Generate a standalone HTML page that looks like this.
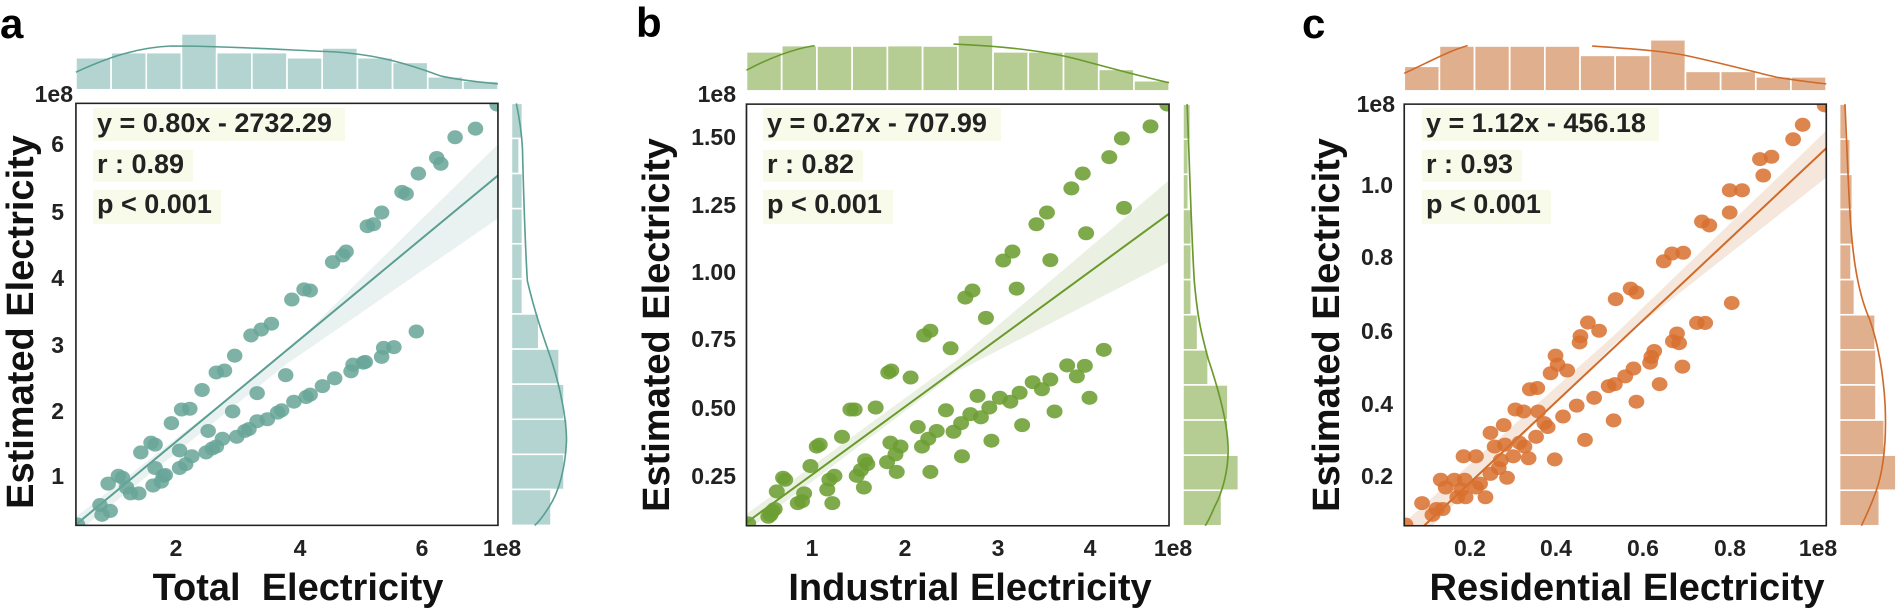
<!DOCTYPE html>
<html><head><meta charset="utf-8"><style>
html,body{margin:0;padding:0;background:#fff;}
svg{display:block;}
text{font-family:"Liberation Sans",Arial,sans-serif;font-weight:bold;fill:#222;}
.tk{font-size:23px;}
.lab{font-size:38px;fill:#111;}
.ann{font-size:27px;}
.pl{font-size:42px;fill:#000;}
</style></head><body>
<svg width="1900" height="612" viewBox="0 0 1900 612" xmlns="http://www.w3.org/2000/svg">
<defs>
<clipPath id="ca"><rect x="186" y="265" width="1034" height="1082"/></clipPath>
<clipPath id="cb"><rect x="348" y="267" width="1004" height="1081"/></clipPath>
<clipPath id="cc"><rect x="372" y="267" width="1018" height="1081"/></clipPath>
</defs>

<!-- ============ PANEL A ============ -->
<g transform="scale(0.40816,0.39002)">
 <g fill="#b3d4d0" stroke="#fff" stroke-width="4">
  <rect x="186" y="148" width="86.2" height="82"/><rect x="272.2" y="135" width="86.2" height="95"/><rect x="358.4" y="135" width="86.2" height="95"/><rect x="444.6" y="87" width="86.2" height="143"/><rect x="530.8" y="135" width="86.2" height="95"/><rect x="617" y="135" width="86.2" height="95"/><rect x="703.2" y="148" width="86.2" height="82"/><rect x="789.4" y="123" width="86.2" height="107"/><rect x="875.6" y="148" width="86.2" height="82"/><rect x="961.8" y="160" width="86.2" height="70"/><rect x="1048" y="197" width="86.2" height="33"/><rect x="1134.2" y="208" width="86.2" height="22"/>
 </g>
 <path d="M186,185 C260,150 330,122 420,118 C560,118 700,128 820,133 C920,140 990,160 1080,195 C1140,208 1190,212 1220,215" fill="none" stroke="#5a9e92" stroke-width="4"/>
 <g fill="#b3d4d0" stroke="#fff" stroke-width="4">
  <rect x="1253" y="265" width="27" height="90"/><rect x="1253" y="355" width="19" height="90"/><rect x="1253" y="445" width="27" height="90"/><rect x="1253" y="535" width="27" height="90"/><rect x="1253" y="625" width="27" height="90"/><rect x="1253" y="715" width="27" height="90"/><rect x="1253" y="805" width="67" height="90"/><rect x="1253" y="895" width="117" height="90"/><rect x="1253" y="985" width="129" height="90"/><rect x="1253" y="1075" width="137" height="90"/><rect x="1253" y="1165" width="129" height="90"/><rect x="1253" y="1255" width="97" height="92"/>
 </g>
 <path d="M1265,265 C1272,300 1278,340 1280,380 C1284,550 1288,650 1292,720 C1310,800 1330,860 1350,920 C1375,1000 1388,1080 1388,1130 C1385,1200 1370,1260 1345,1300 C1330,1325 1318,1340 1310,1347" fill="none" stroke="#5a9e92" stroke-width="4"/>
 <g clip-path="url(#ca)">
  <polygon points="186,1325 700,905 1220,370 1220,560 700,935 186,1368" fill="#6aa89c" fill-opacity="0.15"/>
  <line x1="186" y1="1345" x2="1220" y2="450" stroke="#5a9e92" stroke-width="5"/>
  <g fill="#67a598" fill-opacity="0.85">
   <ellipse cx="190" cy="1345" rx="19" ry="18"/>
   <ellipse cx="245" cy="1295" rx="19" ry="18"/><ellipse cx="265" cy="1240" rx="19" ry="18"/><ellipse cx="290" cy="1220" rx="19" ry="18"/><ellipse cx="300" cy="1225" rx="19" ry="18"/><ellipse cx="345" cy="1160" rx="19" ry="18"/><ellipse cx="370" cy="1135" rx="19" ry="18"/><ellipse cx="380" cy="1140" rx="19" ry="18"/><ellipse cx="420" cy="1085" rx="19" ry="18"/><ellipse cx="445" cy="1050" rx="19" ry="18"/><ellipse cx="465" cy="1048" rx="19" ry="18"/><ellipse cx="495" cy="1000" rx="19" ry="18"/><ellipse cx="530" cy="955" rx="19" ry="18"/><ellipse cx="550" cy="950" rx="19" ry="18"/><ellipse cx="575" cy="912" rx="19" ry="18"/><ellipse cx="615" cy="860" rx="19" ry="18"/><ellipse cx="640" cy="845" rx="19" ry="18"/><ellipse cx="665" cy="830" rx="19" ry="18"/><ellipse cx="715" cy="768" rx="19" ry="18"/><ellipse cx="745" cy="742" rx="19" ry="18"/><ellipse cx="760" cy="745" rx="19" ry="18"/><ellipse cx="815" cy="672" rx="19" ry="18"/><ellipse cx="840" cy="655" rx="19" ry="18"/><ellipse cx="848" cy="645" rx="19" ry="18"/><ellipse cx="900" cy="580" rx="19" ry="18"/><ellipse cx="915" cy="575" rx="19" ry="18"/><ellipse cx="935" cy="545" rx="19" ry="18"/><ellipse cx="985" cy="492" rx="19" ry="18"/><ellipse cx="995" cy="497" rx="19" ry="18"/><ellipse cx="1025" cy="445" rx="19" ry="18"/><ellipse cx="1070" cy="405" rx="19" ry="18"/><ellipse cx="1080" cy="420" rx="19" ry="18"/><ellipse cx="1115" cy="352" rx="19" ry="18"/><ellipse cx="1165" cy="330" rx="19" ry="18"/><ellipse cx="1218" cy="268" rx="19" ry="18"/>
   <ellipse cx="250" cy="1320" rx="19" ry="18"/><ellipse cx="270" cy="1310" rx="19" ry="18"/><ellipse cx="310" cy="1250" rx="19" ry="18"/><ellipse cx="320" cy="1265" rx="19" ry="18"/><ellipse cx="340" cy="1265" rx="19" ry="18"/><ellipse cx="375" cy="1245" rx="19" ry="18"/><ellipse cx="380" cy="1200" rx="19" ry="18"/><ellipse cx="395" cy="1235" rx="19" ry="18"/><ellipse cx="405" cy="1218" rx="19" ry="18"/><ellipse cx="440" cy="1200" rx="19" ry="18"/><ellipse cx="455" cy="1190" rx="19" ry="18"/><ellipse cx="470" cy="1170" rx="19" ry="18"/><ellipse cx="505" cy="1160" rx="19" ry="18"/><ellipse cx="520" cy="1150" rx="19" ry="18"/><ellipse cx="530" cy="1145" rx="19" ry="18"/><ellipse cx="545" cy="1125" rx="19" ry="18"/><ellipse cx="580" cy="1120" rx="19" ry="18"/><ellipse cx="600" cy="1105" rx="19" ry="18"/><ellipse cx="610" cy="1100" rx="19" ry="18"/><ellipse cx="630" cy="1080" rx="19" ry="18"/><ellipse cx="655" cy="1075" rx="19" ry="18"/><ellipse cx="680" cy="1058" rx="19" ry="18"/><ellipse cx="690" cy="1052" rx="19" ry="18"/><ellipse cx="720" cy="1030" rx="19" ry="18"/><ellipse cx="750" cy="1018" rx="19" ry="18"/><ellipse cx="760" cy="1012" rx="19" ry="18"/><ellipse cx="790" cy="990" rx="19" ry="18"/><ellipse cx="820" cy="970" rx="19" ry="18"/><ellipse cx="860" cy="952" rx="19" ry="18"/><ellipse cx="865" cy="935" rx="19" ry="18"/><ellipse cx="890" cy="930" rx="19" ry="18"/><ellipse cx="895" cy="928" rx="19" ry="18"/><ellipse cx="935" cy="915" rx="19" ry="18"/><ellipse cx="940" cy="892" rx="19" ry="18"/><ellipse cx="965" cy="890" rx="19" ry="18"/><ellipse cx="1020" cy="850" rx="19" ry="18"/>
   <ellipse cx="440" cy="1155" rx="19" ry="18"/><ellipse cx="510" cy="1105" rx="19" ry="18"/><ellipse cx="570" cy="1055" rx="19" ry="18"/><ellipse cx="630" cy="1008" rx="19" ry="18"/><ellipse cx="700" cy="962" rx="19" ry="18"/><ellipse cx="400" cy="1220" rx="19" ry="18"/>
  </g>
 </g>
 <rect x="186" y="265" width="1034" height="1082" fill="none" stroke="#222" stroke-width="4"/>
</g>
<text class="pl" x="0" y="38">a</text>
<text class="tk" x="73" y="102" text-anchor="end">1e8</text>
<text class="tk" x="64" y="152" text-anchor="end">6</text><text class="tk" x="64" y="220" text-anchor="end">5</text><text class="tk" x="64" y="286" text-anchor="end">4</text><text class="tk" x="64" y="353" text-anchor="end">3</text><text class="tk" x="64" y="419" text-anchor="end">2</text><text class="tk" x="64" y="484" text-anchor="end">1</text>
<g text-anchor="middle">
<text class="tk" x="176" y="556">2</text><text class="tk" x="300" y="556">4</text><text class="tk" x="422" y="556">6</text><text class="tk" x="502" y="556">1e8</text>
<text class="lab" x="298" y="600" xml:space="preserve">Total  Electricity</text>
</g>
<text class="lab" text-anchor="middle" transform="translate(33,322) rotate(-90)">Estimated Electricity</text>
<rect x="93" y="108" width="252" height="33" fill="#f8fbea"/>
<rect x="93" y="150" width="100" height="32" fill="#f8fbea"/>
<rect x="93" y="190" width="128" height="34" fill="#f8fbea"/>
<text class="ann" x="97" y="132">y = 0.80x - 2732.29</text>
<text class="ann" x="97" y="173">r : 0.89</text>
<text class="ann" x="97" y="213">p &lt; 0.001</text>

<!-- ============ PANEL B ============ -->
<g transform="translate(600,0) scale(0.42088,0.39002)">
 <g fill="#b5cc92" stroke="#fff" stroke-width="4">
  <rect x="348" y="133" width="83.7" height="100"/><rect x="431.7" y="117" width="83.7" height="116"/><rect x="515.4" y="118" width="83.7" height="115"/><rect x="599.1" y="118" width="83.7" height="115"/><rect x="682.8" y="117" width="83.7" height="116"/><rect x="766.5" y="118" width="83.7" height="115"/><rect x="850.2" y="90" width="83.7" height="143"/><rect x="933.9" y="133" width="83.7" height="100"/><rect x="1017.6" y="133" width="83.7" height="100"/><rect x="1101.3" y="133" width="83.7" height="100"/><rect x="1185" y="178" width="83.7" height="55"/><rect x="1268.7" y="207" width="83.7" height="26"/>
 </g>
 <path d="M348,180 C400,150 460,125 510,117 M840,113 C950,118 1050,130 1120,148 C1200,170 1280,195 1352,212" fill="none" stroke="#6a9a2c" stroke-width="4"/>
 <g fill="#b5cc92" stroke="#fff" stroke-width="4">
  <rect x="1385" y="267" width="18" height="90"/><rect x="1385" y="357" width="13" height="90"/><rect x="1385" y="447" width="13" height="90"/><rect x="1385" y="537" width="20" height="90"/><rect x="1385" y="627" width="20" height="90"/><rect x="1385" y="717" width="20" height="90"/><rect x="1385" y="807" width="35" height="90"/><rect x="1385" y="897" width="60" height="90"/><rect x="1385" y="987" width="107" height="90"/><rect x="1385" y="1077" width="107" height="90"/><rect x="1385" y="1167" width="132" height="90"/><rect x="1385" y="1257" width="92" height="91"/>
 </g>
 <path d="M1395,267 C1400,400 1405,600 1412,720 C1420,820 1430,860 1445,920 C1470,1000 1490,1080 1492,1140 C1495,1200 1480,1260 1460,1300 C1450,1325 1443,1340 1438,1348" fill="none" stroke="#6a9a2c" stroke-width="4"/>
 <g clip-path="url(#cb)">
  <polygon points="348,1318 850,922 1352,462 1352,672 850,952 348,1362" fill="#74a23f" fill-opacity="0.15"/>
  <line x1="348" y1="1340" x2="1352" y2="548" stroke="#6a9a2c" stroke-width="5"/>
  <g fill="#6c9e33" fill-opacity="0.88">
   <ellipse cx="352" cy="1342" rx="19" ry="18"/><ellipse cx="405" cy="1320" rx="19" ry="18"/><ellipse cx="415" cy="1305" rx="19" ry="18"/><ellipse cx="420" cy="1260" rx="19" ry="18"/><ellipse cx="435" cy="1225" rx="19" ry="18"/><ellipse cx="440" cy="1230" rx="19" ry="18"/><ellipse cx="500" cy="1195" rx="19" ry="18"/><ellipse cx="515" cy="1145" rx="19" ry="18"/><ellipse cx="522" cy="1140" rx="19" ry="18"/><ellipse cx="575" cy="1120" rx="19" ry="18"/><ellipse cx="595" cy="1050" rx="19" ry="18"/><ellipse cx="605" cy="1050" rx="19" ry="18"/><ellipse cx="655" cy="1045" rx="19" ry="18"/><ellipse cx="685" cy="955" rx="19" ry="18"/><ellipse cx="692" cy="950" rx="19" ry="18"/><ellipse cx="738" cy="968" rx="19" ry="18"/><ellipse cx="770" cy="860" rx="19" ry="18"/><ellipse cx="785" cy="848" rx="19" ry="18"/><ellipse cx="833" cy="893" rx="19" ry="18"/><ellipse cx="868" cy="763" rx="19" ry="18"/><ellipse cx="885" cy="745" rx="19" ry="18"/><ellipse cx="917" cy="815" rx="19" ry="18"/><ellipse cx="958" cy="668" rx="19" ry="18"/><ellipse cx="980" cy="645" rx="19" ry="18"/><ellipse cx="990" cy="740" rx="19" ry="18"/><ellipse cx="1037" cy="575" rx="19" ry="18"/><ellipse cx="1062" cy="545" rx="19" ry="18"/><ellipse cx="1070" cy="667" rx="19" ry="18"/><ellipse cx="1120" cy="483" rx="19" ry="18"/><ellipse cx="1147" cy="445" rx="19" ry="18"/><ellipse cx="1155" cy="598" rx="19" ry="18"/><ellipse cx="1210" cy="403" rx="19" ry="18"/><ellipse cx="1240" cy="355" rx="19" ry="18"/><ellipse cx="1245" cy="533" rx="19" ry="18"/><ellipse cx="1308" cy="324" rx="19" ry="18"/><ellipse cx="1348" cy="268" rx="19" ry="18"/>
   <ellipse cx="400" cy="1325" rx="19" ry="18"/><ellipse cx="410" cy="1310" rx="19" ry="18"/><ellipse cx="470" cy="1290" rx="19" ry="18"/><ellipse cx="480" cy="1285" rx="19" ry="18"/><ellipse cx="485" cy="1265" rx="19" ry="18"/><ellipse cx="540" cy="1255" rx="19" ry="18"/><ellipse cx="545" cy="1230" rx="19" ry="18"/><ellipse cx="552" cy="1290" rx="19" ry="18"/><ellipse cx="557" cy="1220" rx="19" ry="18"/><ellipse cx="610" cy="1220" rx="19" ry="18"/><ellipse cx="620" cy="1205" rx="19" ry="18"/><ellipse cx="627" cy="1250" rx="19" ry="18"/><ellipse cx="630" cy="1180" rx="19" ry="18"/><ellipse cx="635" cy="1190" rx="19" ry="18"/><ellipse cx="682" cy="1185" rx="19" ry="18"/><ellipse cx="690" cy="1135" rx="19" ry="18"/><ellipse cx="702" cy="1165" rx="19" ry="18"/><ellipse cx="705" cy="1210" rx="19" ry="18"/><ellipse cx="714" cy="1145" rx="19" ry="18"/><ellipse cx="755" cy="1095" rx="19" ry="18"/><ellipse cx="765" cy="1145" rx="19" ry="18"/><ellipse cx="780" cy="1125" rx="19" ry="18"/><ellipse cx="785" cy="1210" rx="19" ry="18"/><ellipse cx="800" cy="1105" rx="19" ry="18"/><ellipse cx="822" cy="1052" rx="19" ry="18"/><ellipse cx="840" cy="1107" rx="19" ry="18"/><ellipse cx="858" cy="1085" rx="19" ry="18"/><ellipse cx="860" cy="1170" rx="19" ry="18"/><ellipse cx="880" cy="1062" rx="19" ry="18"/><ellipse cx="897" cy="1015" rx="19" ry="18"/><ellipse cx="905" cy="1070" rx="19" ry="18"/><ellipse cx="925" cy="1045" rx="19" ry="18"/><ellipse cx="930" cy="1130" rx="19" ry="18"/><ellipse cx="950" cy="1020" rx="19" ry="18"/><ellipse cx="975" cy="1030" rx="19" ry="18"/><ellipse cx="997" cy="1007" rx="19" ry="18"/><ellipse cx="1003" cy="1090" rx="19" ry="18"/><ellipse cx="1028" cy="980" rx="19" ry="18"/><ellipse cx="1050" cy="998" rx="19" ry="18"/><ellipse cx="1070" cy="973" rx="19" ry="18"/><ellipse cx="1080" cy="1055" rx="19" ry="18"/><ellipse cx="1110" cy="937" rx="19" ry="18"/><ellipse cx="1133" cy="965" rx="19" ry="18"/><ellipse cx="1152" cy="938" rx="19" ry="18"/><ellipse cx="1163" cy="1020" rx="19" ry="18"/><ellipse cx="1197" cy="897" rx="19" ry="18"/>
  </g>
 </g>
 <rect x="348" y="267" width="1004" height="1081" fill="none" stroke="#222" stroke-width="4"/>
</g>
<text class="pl" x="636" y="37">b</text>
<text class="tk" x="736" y="102" text-anchor="end">1e8</text>
<text class="tk" x="736" y="145" text-anchor="end">1.50</text>
<text class="tk" x="736" y="213" text-anchor="end">1.25</text>
<text class="tk" x="736" y="280" text-anchor="end">1.00</text>
<text class="tk" x="736" y="347" text-anchor="end">0.75</text>
<text class="tk" x="736" y="416" text-anchor="end">0.50</text>
<text class="tk" x="736" y="484" text-anchor="end">0.25</text>
<g text-anchor="middle">
<text class="tk" x="812" y="556">1</text><text class="tk" x="905" y="556">2</text><text class="tk" x="998" y="556">3</text><text class="tk" x="1090" y="556">4</text><text class="tk" x="1173" y="556">1e8</text>
<text class="lab" x="970" y="600">Industrial Electricity</text>
</g>
<text class="lab" text-anchor="middle" transform="translate(669,325) rotate(-90)">Estimated Electricity</text>
<rect x="763" y="108" width="238" height="33" fill="#f8fbea"/>
<rect x="763" y="150" width="100" height="32" fill="#f8fbea"/>
<rect x="763" y="190" width="130" height="34" fill="#f8fbea"/>
<text class="ann" x="767" y="132">y = 0.27x - 707.99</text>
<text class="ann" x="767" y="173">r : 0.82</text>
<text class="ann" x="767" y="213">p &lt; 0.001</text>

<!-- ============ PANEL C ============ -->
<g transform="translate(1250,0) scale(0.41459,0.39002)">
 <g fill="#e0b08e" stroke="#fff" stroke-width="4">
  <rect x="372" y="170" width="84.8" height="63"/><rect x="456.8" y="118" width="84.8" height="115"/><rect x="541.6" y="118" width="84.8" height="115"/><rect x="626.4" y="118" width="84.8" height="115"/><rect x="711.2" y="118" width="84.8" height="115"/><rect x="796" y="142" width="84.8" height="91"/><rect x="880.8" y="142" width="84.8" height="91"/><rect x="965.6" y="102" width="84.8" height="131"/><rect x="1050.4" y="183" width="84.8" height="50"/><rect x="1135.2" y="183" width="84.8" height="50"/><rect x="1220" y="197" width="84.8" height="36"/><rect x="1304.8" y="197" width="84.8" height="36"/>
 </g>
 <path d="M372,188 C430,160 480,130 525,117 M825,118 C920,125 990,130 1050,142 C1130,160 1200,180 1270,198 C1330,208 1370,213 1390,215" fill="none" stroke="#d06a2a" stroke-width="4"/>
 <g fill="#e0b08e" stroke="#fff" stroke-width="4">
  <rect x="1422" y="267" width="16" height="90"/><rect x="1422" y="357" width="26" height="90"/><rect x="1422" y="447" width="31" height="90"/><rect x="1422" y="537" width="31" height="90"/><rect x="1422" y="627" width="28" height="90"/><rect x="1422" y="717" width="36" height="90"/><rect x="1422" y="807" width="86" height="90"/><rect x="1422" y="897" width="88" height="90"/><rect x="1422" y="987" width="88" height="90"/><rect x="1422" y="1077" width="108" height="90"/><rect x="1422" y="1167" width="136" height="90"/><rect x="1422" y="1257" width="96" height="91"/>
 </g>
 <path d="M1435,267 C1440,380 1443,480 1448,560 C1455,680 1470,760 1495,820 C1515,880 1528,960 1532,1040 C1535,1120 1530,1200 1510,1260 C1495,1305 1482,1330 1475,1348" fill="none" stroke="#d06a2a" stroke-width="4"/>
 <g clip-path="url(#cc)">
  <polygon points="372,1340 880,858 1390,335 1390,455 880,882 372,1420" fill="#e8c9b0" fill-opacity="0.45"/>
  <line x1="420" y1="1348" x2="1390" y2="380" stroke="#d06a2a" stroke-width="5"/>
  <g fill="#d8702f" fill-opacity="0.85">
   <ellipse cx="375" cy="1345" rx="19" ry="18"/><ellipse cx="415" cy="1290" rx="19" ry="18"/><ellipse cx="440" cy="1320" rx="19" ry="18"/><ellipse cx="450" cy="1305" rx="19" ry="18"/><ellipse cx="465" cy="1305" rx="19" ry="18"/><ellipse cx="460" cy="1230" rx="19" ry="18"/><ellipse cx="472" cy="1250" rx="19" ry="18"/><ellipse cx="493" cy="1230" rx="19" ry="18"/><ellipse cx="500" cy="1275" rx="19" ry="18"/><ellipse cx="510" cy="1255" rx="19" ry="18"/><ellipse cx="515" cy="1170" rx="19" ry="18"/><ellipse cx="518" cy="1230" rx="19" ry="18"/><ellipse cx="520" cy="1275" rx="19" ry="18"/><ellipse cx="545" cy="1170" rx="19" ry="18"/><ellipse cx="545" cy="1250" rx="19" ry="18"/><ellipse cx="555" cy="1240" rx="19" ry="18"/><ellipse cx="568" cy="1275" rx="19" ry="18"/><ellipse cx="580" cy="1215" rx="19" ry="18"/><ellipse cx="580" cy="1110" rx="19" ry="18"/><ellipse cx="590" cy="1145" rx="19" ry="18"/><ellipse cx="600" cy="1200" rx="19" ry="18"/><ellipse cx="605" cy="1180" rx="19" ry="18"/><ellipse cx="612" cy="1090" rx="19" ry="18"/><ellipse cx="615" cy="1140" rx="19" ry="18"/><ellipse cx="620" cy="1225" rx="19" ry="18"/><ellipse cx="635" cy="1170" rx="19" ry="18"/><ellipse cx="640" cy="1050" rx="19" ry="18"/><ellipse cx="650" cy="1135" rx="19" ry="18"/><ellipse cx="660" cy="1055" rx="19" ry="18"/><ellipse cx="662" cy="1145" rx="19" ry="18"/><ellipse cx="672" cy="1175" rx="19" ry="18"/><ellipse cx="675" cy="998" rx="19" ry="18"/><ellipse cx="690" cy="1120" rx="19" ry="18"/><ellipse cx="693" cy="995" rx="19" ry="18"/><ellipse cx="695" cy="1055" rx="19" ry="18"/><ellipse cx="710" cy="1085" rx="19" ry="18"/><ellipse cx="718" cy="1095" rx="19" ry="18"/><ellipse cx="725" cy="957" rx="19" ry="18"/><ellipse cx="735" cy="1178" rx="19" ry="18"/><ellipse cx="737" cy="912" rx="19" ry="18"/><ellipse cx="742" cy="935" rx="19" ry="18"/><ellipse cx="755" cy="1068" rx="19" ry="18"/><ellipse cx="765" cy="950" rx="19" ry="18"/><ellipse cx="788" cy="1040" rx="19" ry="18"/><ellipse cx="795" cy="878" rx="19" ry="18"/><ellipse cx="797" cy="862" rx="19" ry="18"/><ellipse cx="808" cy="1128" rx="19" ry="18"/><ellipse cx="815" cy="827" rx="19" ry="18"/><ellipse cx="830" cy="1020" rx="19" ry="18"/><ellipse cx="842" cy="848" rx="19" ry="18"/><ellipse cx="865" cy="990" rx="19" ry="18"/><ellipse cx="877" cy="1078" rx="19" ry="18"/><ellipse cx="880" cy="985" rx="19" ry="18"/><ellipse cx="882" cy="767" rx="19" ry="18"/><ellipse cx="905" cy="965" rx="19" ry="18"/><ellipse cx="918" cy="740" rx="19" ry="18"/><ellipse cx="925" cy="945" rx="19" ry="18"/><ellipse cx="932" cy="1030" rx="19" ry="18"/><ellipse cx="932" cy="750" rx="19" ry="18"/><ellipse cx="965" cy="930" rx="19" ry="18"/><ellipse cx="968" cy="915" rx="19" ry="18"/><ellipse cx="975" cy="900" rx="19" ry="18"/><ellipse cx="988" cy="985" rx="19" ry="18"/><ellipse cx="998" cy="670" rx="19" ry="18"/><ellipse cx="1018" cy="650" rx="19" ry="18"/><ellipse cx="1020" cy="875" rx="19" ry="18"/><ellipse cx="1030" cy="855" rx="19" ry="18"/><ellipse cx="1035" cy="880" rx="19" ry="18"/><ellipse cx="1043" cy="940" rx="19" ry="18"/><ellipse cx="1045" cy="648" rx="19" ry="18"/><ellipse cx="1078" cy="828" rx="19" ry="18"/><ellipse cx="1090" cy="568" rx="19" ry="18"/><ellipse cx="1098" cy="828" rx="19" ry="18"/><ellipse cx="1108" cy="578" rx="19" ry="18"/><ellipse cx="1157" cy="545" rx="19" ry="18"/><ellipse cx="1157" cy="488" rx="19" ry="18"/><ellipse cx="1162" cy="777" rx="19" ry="18"/><ellipse cx="1187" cy="488" rx="19" ry="18"/><ellipse cx="1230" cy="408" rx="19" ry="18"/><ellipse cx="1238" cy="450" rx="19" ry="18"/><ellipse cx="1258" cy="402" rx="19" ry="18"/><ellipse cx="1310" cy="357" rx="19" ry="18"/><ellipse cx="1333" cy="320" rx="19" ry="18"/><ellipse cx="1386" cy="270" rx="19" ry="18"/>
  </g>
 </g>
 <rect x="372" y="267" width="1018" height="1081" fill="none" stroke="#222" stroke-width="4"/>
</g>
<text class="pl" x="1302" y="38">c</text>
<text class="tk" x="1395" y="112" text-anchor="end">1e8</text>
<text class="tk" x="1393" y="193" text-anchor="end">1.0</text>
<text class="tk" x="1393" y="265" text-anchor="end">0.8</text>
<text class="tk" x="1393" y="339" text-anchor="end">0.6</text>
<text class="tk" x="1393" y="412" text-anchor="end">0.4</text>
<text class="tk" x="1393" y="484" text-anchor="end">0.2</text>
<g text-anchor="middle">
<text class="tk" x="1470" y="556">0.2</text><text class="tk" x="1556" y="556">0.4</text><text class="tk" x="1643" y="556">0.6</text><text class="tk" x="1730" y="556">0.8</text><text class="tk" x="1818" y="556">1e8</text>
<text class="lab" x="1627" y="600">Residential Electricity</text>
</g>
<text class="lab" text-anchor="middle" transform="translate(1339,325) rotate(-90)">Estimated Electricity</text>
<rect x="1422" y="108" width="237" height="33" fill="#f8fbea"/>
<rect x="1422" y="150" width="100" height="32" fill="#f8fbea"/>
<rect x="1422" y="190" width="129" height="34" fill="#f8fbea"/>
<text class="ann" x="1426" y="132">y = 1.12x - 456.18</text>
<text class="ann" x="1426" y="173">r : 0.93</text>
<text class="ann" x="1426" y="213">p &lt; 0.001</text>
</svg>
</body></html>
